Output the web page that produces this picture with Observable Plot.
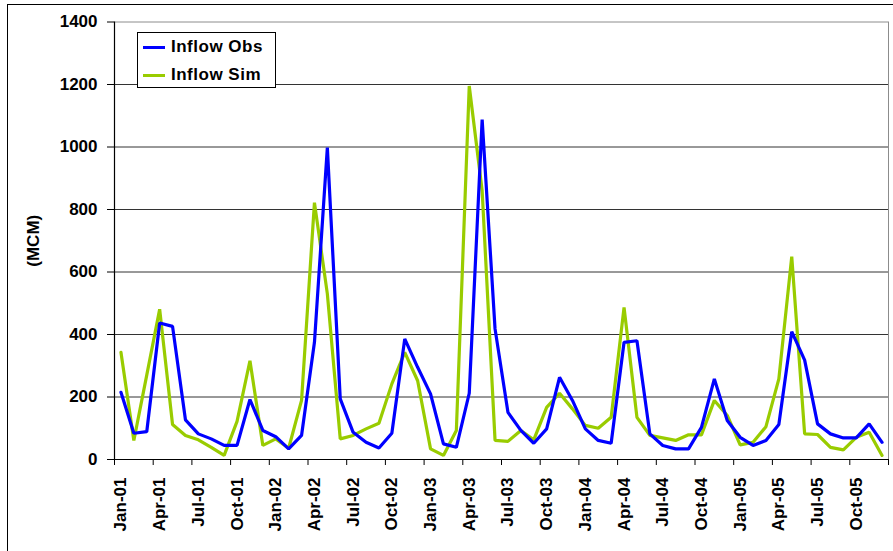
<!DOCTYPE html>
<html>
<head>
<meta charset="utf-8">
<script src="https://cdn.jsdelivr.net/npm/d3@7"></script>
<script src="https://cdn.jsdelivr.net/npm/@observablehq/plot@0.6"></script>
<style>
  html, body { margin: 0; padding: 0; background: #fff; }
  #wrap { position: relative; width: 893px; height: 551px; overflow: hidden; background: #fff; font-family: "Liberation Sans", Arial, sans-serif; }
  #frame { position: absolute; left: 7px; top: 4px; width: 1000px; height: 1000px; border-left: 1.5px solid #000; border-top: 1.5px solid #000; pointer-events: none; }
  #chart { position: absolute; left: 0; top: 0; }
  #legend { position: absolute; left: 137px; top: 32px; width: 137px; height: 54px; border: 1px solid #000; background: #fff; font-weight: bold; font-size: 17px; letter-spacing: 0.5px; }
  .item { position: absolute; left: 5px; height: 20px; display: flex; align-items: center; }
  .sw { width: 22px; height: 3px; margin-right: 6px; }
</style>
</head>
<body>
<div id="wrap">
  <div id="frame"></div>
  <div id="chart"></div>
  <div id="legend"></div>
</div>
<script>
// ---- data ----
const monthNames = ["Jan","Feb","Mar","Apr","May","Jun","Jul","Aug","Sep","Oct","Nov","Dec"];
const years = ["01","02","03","04","05"];
const months = years.flatMap(y => monthNames.map(m => `${m}-${y}`));

const inflowObs = [
  215, 84, 89, 437, 426, 127, 82, 66, 45, 45, 192, 93,
  73, 34, 77, 375, 998, 194, 87, 55, 37, 84, 386, 295,
  210, 50, 39, 212, 1088, 418, 151, 93, 52, 98, 263, 189,
  98, 61, 52, 375, 380, 82, 45, 34, 34, 103, 258, 125,
  71, 45, 61, 112, 409, 318, 114, 82, 69, 69, 114, 55
];
const inflowSim = [
  343, 61, 270, 481, 112, 77, 63, 39, 13, 122, 316, 45,
  66, 36, 189, 822, 530, 66, 77, 98, 116, 242, 343, 252,
  34, 13, 93, 1195, 860, 61, 58, 93, 63, 167, 212, 162,
  109, 100, 135, 487, 135, 77, 69, 61, 79, 79, 189, 141,
  47, 55, 105, 258, 649, 82, 80, 39, 31, 71, 87, 13
];
const tickLabels = ["Jan-01","Apr-01","Jul-01","Oct-01","Jan-02","Apr-02","Jul-02","Oct-02",
  "Jan-03","Apr-03","Jul-03","Oct-03","Jan-04","Apr-04","Jul-04","Oct-04",
  "Jan-05","Apr-05","Jul-05","Oct-05"];
const yTicks = [0, 200, 400, 600, 800, 1000, 1200, 1400];
const seriesNames = ["Inflow Obs", "Inflow Sim"];
const seriesColors = ["#0000ff", "#99cc00"];

// ---- build ----
const obsData = months.map((m, i) => ({i, m, v: inflowObs[i]}));
const simData = months.map((m, i) => ({i, m, v: inflowSim[i]}));
const labelIdx = tickLabels.map(l => months.indexOf(l));
const boundaries = [...labelIdx.map(i => i - 0.5), months.length - 0.5];
const n = months.length;

const chart = Plot.plot({
  width: 893,
  height: 551,
  marginLeft: 114,
  marginRight: 5,
  marginTop: 21.5,
  marginBottom: 92,
  style: {fontFamily: "'Liberation Sans', Arial, sans-serif", fontSize: "17px", fontWeight: "bold", color: "#000", background: "transparent", overflow: "visible"},
  x: {domain: [-0.5, n - 0.5], label: null},
  y: {domain: [0, 1400], label: null},
  marks: [
    Plot.ruleY(yTicks.filter(t => t > 0 && t < 1400), {stroke: "#333", strokeWidth: 1}),
    Plot.ruleY([1400], {stroke: "#8c8c8c", strokeWidth: 1}),
    Plot.ruleX([n - 0.5], {stroke: "#8c8c8c", strokeWidth: 1}),
    Plot.line(simData, {x: "i", y: "v", stroke: seriesColors[1], strokeWidth: 3.2, strokeLinejoin: "miter"}),
    Plot.line(obsData, {x: "i", y: "v", stroke: seriesColors[0], strokeWidth: 3.2, strokeLinejoin: "miter"}),
    Plot.ruleX([-0.5], {stroke: "#000", strokeWidth: 1.2}),
    Plot.ruleY([0], {stroke: "#000", strokeWidth: 1.2}),
    Plot.axisY({ticks: yTicks, tickSize: 7, tickPadding: 10, tickFormat: d => String(d),
      label: "(MCM)", labelAnchor: "center", labelOffset: 88, labelArrow: "none"}),
    Plot.axisX({ticks: boundaries, tickSize: 6, tickFormat: () => "", label: null}),
    Plot.axisX({ticks: labelIdx, tickSize: 0, tickPadding: 18, tickRotate: -90,
      tickFormat: i => months[i], label: null})
  ]
});
document.getElementById("chart").appendChild(chart);

// legend
const legend = document.getElementById("legend");
seriesNames.forEach((name, k) => {
  const it = document.createElement("div");
  it.className = "item";
  it.style.top = (4 + k * 28) + "px";
  it.innerHTML = `<span class="sw" style="background:${seriesColors[k]}"></span><span>${name}</span>`;
  legend.appendChild(it);
});
</script>
</body>
</html>
